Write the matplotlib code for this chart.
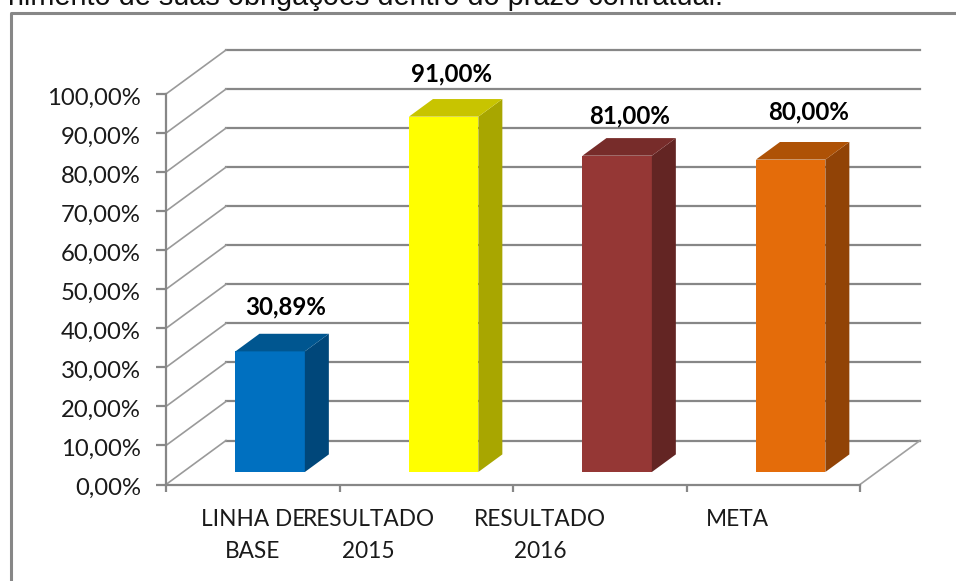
import matplotlib
matplotlib.use("Agg")
import matplotlib.pyplot as plt
from matplotlib.lines import Line2D
from matplotlib.transforms import ScaledTranslation

# values
categories = ["LINHA DE\nBASE", "RESULTADO\n2015", "RESULTADO\n2016", "META"]
values = [30.89, 91.00, 81.00, 80.00]
value_labels = ["30,89%", "91,00%", "81,00%", "80,00%"]
front_colors = ["#0070C0", "#FFFF00", "#953735", "#E46C0A"]
top_colors = ["#005690", "#C8C400", "#772C2A", "#AE5206"]
side_colors = ["#00477A", "#A8A600", "#632523", "#914306"]
y_ticks = [0, 10, 20, 30, 40, 50, 60, 70, 80, 90, 100]

W, H = 956, 581
GRAY = "#878787"
TEXT = "#1a1a1a"
plt.rcParams["font.family"] = ["Lato", "DejaVu Sans"]

fig = plt.figure(figsize=(W / 100, H / 100), dpi=100, facecolor="white")

# cropped sentence above the chart box
fig.text(8 / W, 1 - 5 / H, "nimento de suas obrigações dentro do prazo contratual.",
         family="Liberation Sans", fontsize=20.8, color="#111111", ha="left", va="baseline")

# chart box, only left and top edges are inside the crop
fig.add_artist(Line2D([10.5 / W, 10.5 / W, 1], [0, 1 - 12.5 / H, 1 - 12.5 / H],
                      color=GRAY, lw=2.2, transform=fig.transFigure))

ax = fig.add_axes([166 / W, 1 - 484.5 / H, 694 / W, 390.5 / H])
ax.set_xlim(0, len(categories))
ax.set_ylim(0, 100)
ax.patch.set_visible(False)

# 3D depth of the plot floor, in data units
depth_x = 60 / 694 * len(categories)
depth_y = 44 / 390.5 * 100

# back wall and left wall gridlines
for t in y_ticks:
    ax.plot([depth_x, len(categories) + depth_x], [t + depth_y, t + depth_y],
            color=GRAY, lw=1.6, clip_on=False, zorder=1)
    ax.plot([0, depth_x], [t, t + depth_y], color="#9a9a9a", lw=1.2, clip_on=False, zorder=1)
ax.plot([len(categories), len(categories) + depth_x], [0, depth_y],
        color="#a0a0a0", lw=1.2, clip_on=False, zorder=1)

bar_w = 0.4
f_front, f_back = 0.29, 0.69
label_offsets = [(15, 44), (8, 43), (12, 40), (18, 48)]

for i, v in enumerate(values):
    x0 = i + 0.5 - bar_w / 2 + f_front * depth_x
    x1 = x0 + bar_w
    y0 = 0.284 * depth_y
    sx = (f_back - f_front) * depth_x
    sy = (f_back - f_front) * depth_y
    ax.bar(x0, v, width=bar_w, bottom=y0, align="edge", color=front_colors[i], zorder=3, clip_on=False)
    ax.fill([x1, x1 + sx, x1 + sx, x1], [y0, y0 + sy, y0 + v + sy, y0 + v],
            color=side_colors[i], lw=0, zorder=3, clip_on=False)
    ax.fill([x0, x1, x1 + sx, x0 + sx], [y0 + v, y0 + v, y0 + v + sy, y0 + v + sy],
            color=top_colors[i], lw=0, zorder=3, clip_on=False)
    dx, dy = label_offsets[i]
    ax.annotate(value_labels[i], (x0 + bar_w / 2, y0 + v), xytext=(dx * 0.72, dy * 0.72),
                textcoords="offset points", ha="center", va="center",
                fontsize=17.3, fontweight="bold", color="black", zorder=5)

for side in ["top", "right"]:
    ax.spines[side].set_visible(False)
for side in ["left", "bottom"]:
    ax.spines[side].set_color(GRAY)
    ax.spines[side].set_linewidth(1.6)

ax.set_yticks(y_ticks)
ax.set_yticklabels([f"{t},00%" for t in y_ticks], fontsize=17.2, color=TEXT)
ax.tick_params(axis="y", length=7, width=1.6, color=GRAY, pad=11)
# labels sit a little lower than the ticks in the original
shift = ScaledTranslation(0, -2 / 100, fig.dpi_scale_trans)
for lab in ax.get_yticklabels():
    lab.set_transform(lab.get_transform() + shift)
ax.set_xticks(range(len(categories) + 1))
ax.set_xticklabels([])
ax.tick_params(axis="x", length=5, width=1.6, color=GRAY)

# category labels sit off centre in the original
label_x = [0.501, 1.167, 2.156, 3.291]
for x, lab in zip(label_x, categories):
    ax.text(x, -6.4, lab, ha="center", va="top", fontsize=16.3, color=TEXT,
            linespacing=1.6, clip_on=False)

fig.savefig("out.png", dpi=100)
